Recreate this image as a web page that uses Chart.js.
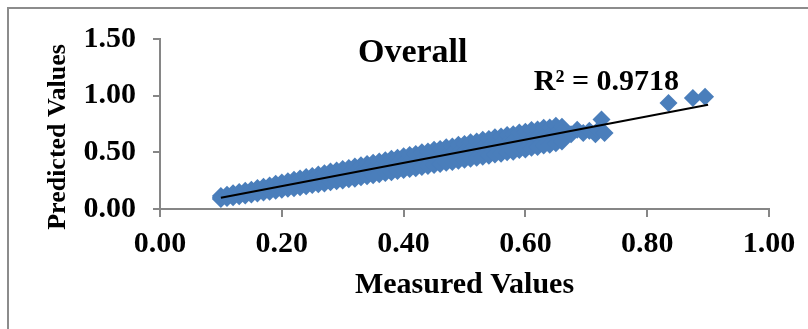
<!DOCTYPE html>
<html>
<head>
<meta charset="utf-8">
<script src="https://cdn.jsdelivr.net/npm/chart.js@4.4.1/dist/chart.umd.min.js"></script>
<style>
  html, body { margin: 0; padding: 0; background: #fff; overflow: hidden; }
  #frame { position: absolute; left: 7px; top: 7px; width: 900px; height: 400px; border: 2px solid #8c8c8c; }
  #wrap { position: absolute; left: 0; top: 0; width: 808px; height: 329px; }
</style>
</head>
<body>
<div id="frame"></div>
<div id="wrap"><canvas id="chart" width="808" height="329"></canvas></div>
<script>
// band of measured / predicted pairs
const bandX = [0.10, 0.11, 0.12, 0.13, 0.14, 0.15, 0.16, 0.17, 0.18, 0.19,
  0.20, 0.21, 0.22, 0.23, 0.24, 0.25, 0.26, 0.27, 0.28, 0.29,
  0.30, 0.31, 0.32, 0.33, 0.34, 0.35, 0.36, 0.37, 0.38, 0.39,
  0.40, 0.41, 0.42, 0.43, 0.44, 0.45, 0.46, 0.47, 0.48, 0.49,
  0.50, 0.51, 0.52, 0.53, 0.54, 0.55, 0.56, 0.57, 0.58, 0.59,
  0.60, 0.61, 0.62, 0.63, 0.64, 0.65, 0.66];
const bandHigh = [0.115, 0.125, 0.138, 0.150, 0.162, 0.170, 0.185, 0.196, 0.208, 0.222,
  0.234, 0.245, 0.258, 0.270, 0.283, 0.292, 0.305, 0.316, 0.330, 0.340,
  0.352, 0.362, 0.376, 0.386, 0.398, 0.408, 0.420, 0.430, 0.444, 0.452,
  0.466, 0.476, 0.486, 0.500, 0.508, 0.522, 0.530, 0.545, 0.552, 0.566,
  0.574, 0.588, 0.596, 0.610, 0.618, 0.632, 0.640, 0.654, 0.660, 0.676,
  0.682, 0.696, 0.702, 0.716, 0.720, 0.734, 0.726];
const bandMid = [0.100, 0.108, 0.122, 0.129, 0.143, 0.149, 0.165, 0.170, 0.184, 0.190,
  0.205, 0.210, 0.226, 0.231, 0.247, 0.252, 0.268, 0.272, 0.288, 0.293,
  0.308, 0.312, 0.329, 0.334, 0.349, 0.354, 0.370, 0.374, 0.390, 0.395,
  0.411, 0.415, 0.431, 0.436, 0.452, 0.456, 0.472, 0.476, 0.493, 0.497,
  0.513, 0.517, 0.534, 0.538, 0.554, 0.558, 0.575, 0.579, 0.595, 0.599,
  0.616, 0.620, 0.636, 0.640, 0.657, 0.661, 0.672];
const bandLow = [0.088, 0.097, 0.104, 0.112, 0.120, 0.128, 0.136, 0.146, 0.152, 0.160,
  0.170, 0.178, 0.184, 0.192, 0.200, 0.212, 0.218, 0.226, 0.236, 0.244,
  0.252, 0.262, 0.268, 0.280, 0.288, 0.298, 0.306, 0.318, 0.324, 0.336,
  0.344, 0.352, 0.360, 0.370, 0.380, 0.388, 0.396, 0.408, 0.414, 0.426,
  0.434, 0.444, 0.452, 0.462, 0.470, 0.480, 0.488, 0.500, 0.506, 0.520,
  0.526, 0.540, 0.546, 0.560, 0.566, 0.580, 0.596];

// scattered points beyond the band
const outX = [0.675, 0.685, 0.695, 0.705, 0.715, 0.720, 0.725, 0.730, 0.835, 0.875, 0.895];
const outY = [0.660, 0.700, 0.670, 0.690, 0.660, 0.700, 0.790, 0.670, 0.935, 0.980, 0.990];

// linear trend line end points
const trendX = [0.10, 0.90];
const trendY = [0.10, 0.92];

const xTicks = [0.00, 0.20, 0.40, 0.60, 0.80, 1.00];
const yTicks = [0.00, 0.50, 1.00, 1.50];

const chartTitle = 'Overall';
const r2Label = 'R² = 0.9718';
const xTitle = 'Measured Values';
const yTitle = 'Predicted Values';

const points = [];
bandX.forEach((x, i) => {
  points.push({ x: x, y: bandHigh[i] });
  points.push({ x: x, y: bandMid[i] });
  points.push({ x: x, y: bandLow[i] });
});
outX.forEach((x, i) => points.push({ x: x, y: outY[i] }));

const trend = trendX.map((x, i) => ({ x: x, y: trendY[i] }));

const serif = "'Liberation Serif', 'Times New Roman', serif";
const axisGray = '#868686';

// chart title and R² inside the plot, anchored to data values;
// y title drawn by hand because it sits lower than the axis centre
const labelsPlugin = {
  id: 'plotLabels',
  afterDatasetsDraw(chart) {
    const { ctx, scales, chartArea } = chart;
    ctx.save();
    ctx.fillStyle = '#000';
    ctx.textAlign = 'center';
    ctx.textBaseline = 'alphabetic';
    ctx.font = `bold 34px ${serif}`;
    ctx.fillText(chartTitle, scales.x.getPixelForValue(0.415), scales.y.getPixelForValue(1.297));
    ctx.font = `bold 30px ${serif}`;
    ctx.fillText(r2Label, scales.x.getPixelForValue(0.733), scales.y.getPixelForValue(1.05));

    ctx.translate(58, (chartArea.top + chartArea.bottom) / 2 + 13);
    ctx.rotate(-Math.PI / 2);
    ctx.textBaseline = 'middle';
    ctx.font = `bold 26px ${serif}`;
    ctx.fillText(yTitle, 0, 0);
    ctx.restore();
  }
};

new Chart(document.getElementById('chart'), {
  type: 'scatter',
  data: {
    datasets: [
      {
        type: 'line',
        data: trend,
        borderColor: '#000',
        borderWidth: 2,
        pointRadius: 0,
        fill: false,
        order: 0
      },
      {
        data: points,
        pointStyle: 'rectRot',
        pointRadius: 9,
        backgroundColor: '#4a7ebb',
        borderColor: '#4a7ebb',
        borderWidth: 0,
        order: 1
      }
    ]
  },
  options: {
    responsive: false,
    animation: false,
    events: [],
    layout: { padding: { top: 39, right: 39, left: 0, bottom: 0 } },
    plugins: { legend: { display: false }, tooltip: { enabled: false } },
    scales: {
      x: {
        type: 'linear',
        min: 0,
        max: 1,
        afterBuildTicks(scale) { scale.ticks = xTicks.map(v => ({ value: v })); },
        afterFit(scale) { scale.height = 120; },
        grid: { drawOnChartArea: false, drawTicks: true, tickLength: 8, color: axisGray, lineWidth: 2 },
        border: { color: axisGray, width: 2 },
        ticks: {
          padding: 9,
          color: '#000',
          font: { family: serif, size: 30, weight: 'bold' },
          callback: v => v.toFixed(2)
        },
        title: {
          display: true,
          text: xTitle,
          color: '#000',
          font: { family: serif, size: 30, weight: 'bold' },
          padding: { top: 0, bottom: 26 }
        }
      },
      y: {
        type: 'linear',
        min: 0,
        max: 1.5,
        afterBuildTicks(scale) { scale.ticks = yTicks.map(v => ({ value: v })); },
        afterFit(scale) { scale.width = 160; },
        grid: { drawOnChartArea: false, drawTicks: true, tickLength: 7, color: axisGray, lineWidth: 2 },
        border: { color: axisGray, width: 2 },
        ticks: {
          padding: 17,
          color: '#000',
          font: { family: serif, size: 30, weight: 'bold' },
          callback: v => v.toFixed(2)
        },
        title: { display: false }
      }
    }
  },
  plugins: [labelsPlugin]
});
</script>
</body>
</html>
